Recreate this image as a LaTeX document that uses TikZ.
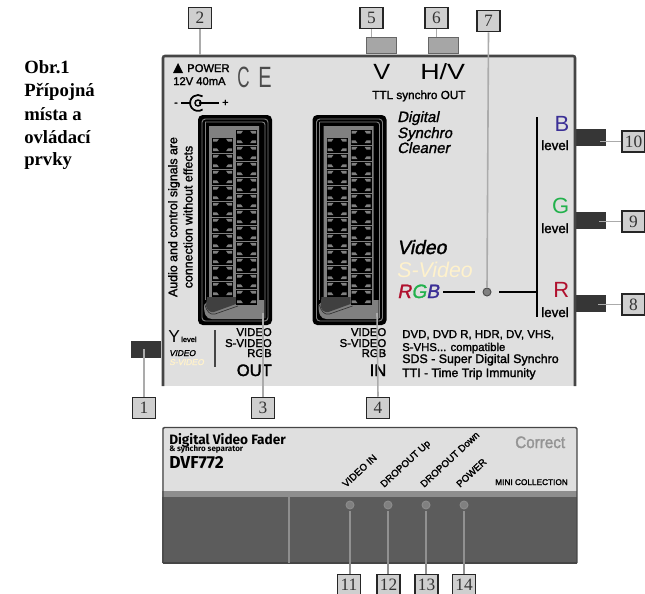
\documentclass[tikz,border=0pt]{standalone}
\usepackage{fontspec}
\setmainfont{Liberation Sans}
\newfontfamily\sembold[FakeBold=1.7]{Liberation Sans}
\newfontfamily\sembolditalic[FakeBold=1.4,FakeSlant=0.2]{Liberation Sans}
\newfontfamily\serifnum{Liberation Serif}
\newfontfamily\fira{Fira Sans}
\newcommand\fpt[1]{\fontsize{#1}{#1}\selectfont}
\definecolor{panel}{HTML}{DFDFDF}
\definecolor{edge}{HTML}{454545}
\definecolor{numedge}{HTML}{262626}
\definecolor{leadc}{HTML}{ABABAB}
\definecolor{tabdark}{HTML}{363636}
\definecolor{tablight}{HTML}{A6A6A6}
\definecolor{labelfill}{HTML}{CFCFCF}
\definecolor{pale}{HTML}{FFF2CC}
\definecolor{rgbr}{HTML}{B0102E}
\definecolor{rgbg}{HTML}{22B14C}
\definecolor{rgbb}{HTML}{3B2F96}
\definecolor{lowdark}{HTML}{5C5C5C}
\definecolor{band}{HTML}{8E8E8E}
\definecolor{midgray}{HTML}{808080}
\tikzset{
 x=0.75pt,y=-0.75pt,
 numbox/.style={draw=numedge,line width=1.1pt,fill=labelfill,inner sep=0pt,minimum width=17pt,minimum height=15.8pt,font=\serifnum\fpt{13},text=black!80},
 darktab/.style={draw=tabdark,fill=tabdark,inner sep=0pt,minimum width=22pt,minimum height=12.2pt},
 lighttab/.style={draw=black!60,line width=0.6pt,fill=tablight,inner sep=0pt,minimum width=22.5pt,minimum height=12.4pt},
 leader/.style={draw=leadc,line width=1.2pt},
 lampdot/.style={circle,draw=black!70,line width=0.7pt,fill=midgray,inner sep=0pt,minimum size=6pt},
 tl/.style={anchor=base west,inner sep=0pt},
 tr/.style={anchor=base east,inner sep=0pt},
 rot/.style={anchor=base west,inner sep=0pt,rotate=43,font=\sembold\fpt{7.3}},
}
% one socket cell: #1 left x, #2 top y
\newcommand\sockcell[2]{%
 \fill[black] (#1,#2) rectangle +(21,16);
 \draw[midgray,line width=0.4pt] (#1,#2) -- +(21,0);
 \fill[midgray] (#1+1,#2+1.8) -- +(6,0) -- +(4,2.8) -- +(0,2.8) -- cycle;
 \fill[midgray] (#1+20,#2+1.8) -- +(-6,0) -- +(-4,2.8) -- +(0,2.8) -- cycle;
 \fill[midgray] (#1+1,#2+14.2) -- +(6,0) -- +(4,-2.8) -- +(0,-2.8) -- cycle;
 \fill[midgray] (#1+20,#2+14.2) -- +(-6,0) -- +(-4,-2.8) -- +(0,-2.8) -- cycle;
}
% scart connector: #1 x offset
\newcommand\scart[1]{%
 \begin{scope}[xshift=#1*0.75pt]
 \fill[black,rounded corners=3.5pt] (198,115) rectangle (272,325);
 \draw[midgray,line width=0.7pt,rounded corners=2.5pt] (202,119) rectangle (268,321);
 \draw[midgray,line width=0.7pt,rounded corners=2pt] (205,122) -- (265,122) -- (265,318);
 \draw[midgray,line width=0.7pt] (205,122) -- (205,300);
 \fill[midgray] (209,126) -- (259,126) -- (259,300) -- (264,300) -- (264,319) -- (212,319) .. controls (206,319) and (204,314) .. (204,305) -- (209,300) -- cycle;
 \fill[black!75] (207,297) -- (236,297) -- (236,304) -- (214,312) .. controls (210,313) and (207,310) .. (206,306) -- cycle;
 \draw[black!80,line width=0.5pt] (205,305) .. controls (207,312) and (210,315) .. (215,314) -- (238,306);
 \foreach \k in {0,...,9} {\sockcell{212}{137+16*\k}}
 \foreach \k in {0,...,10} {\sockcell{236}{129+16*\k}}
 \end{scope}}
\begin{document}
\begin{tikzpicture}
\path[use as bounding box] (0,0) rectangle (645,593);
\clip (0,0) rectangle (645,593);

% tabs behind the panel
\node[lighttab] (tab5) at (381.5,45.5) {};
\node[lighttab] (tab6) at (443,45.5) {};
\node[darktab] (tab1) at (146,349) {};
\node[darktab] (tab10) at (591,137) {};
\node[darktab] (tab9) at (591,220) {};
\node[darktab] (tab8) at (591,303.5) {};

% upper panel
\fill[panel] (162,55) rectangle (576,386);
\draw[edge,line width=1.9pt,rounded corners=1.5pt] (163,386) -- (163,56) -- (575,56) -- (575,386);

% connectors
\scart{0}
\scart{114.5}

% top left block
\fill[black] (173,73) -- (178,63) -- (183,73) -- cycle;
\node[tl,font=\sembold\fpt{8.4}] (tpower) at (187,72) {POWER};
\node[tl,font=\sembold\fpt{8.4}] (tmA) at (173,85) {12V 40mA};
\node[tl,font=\fpt{22},text=black!70] (tce) at (237,87.5) {\scalebox{0.58}[1]{C}};
\node[tl,font=\fpt{22},text=black!70] (tce2) at (258,87.5) {\scalebox{0.68}[1]{E}};
% power jack symbol
\node[tl,font=\sembold\fpt{8}] (tminus) at (174,106) {-};
\node[tl,font=\sembold\fpt{8}] (tplus) at (222,106) {+};
\draw[black,line width=1.1pt] (181,103) -- (190,103);
\draw[black,line width=1.1pt] (199,103) -- (219,103);
\draw[black,line width=1.3pt] (202.6,109.5) arc (55:305:8);
\draw[black,line width=1.1pt] (198,103) circle (3);

\node[anchor=center,inner sep=0pt,rotate=90,font=\sembold\fpt{9.3}] (taudio) at (174,217) {Audio and control signals are};
\node[anchor=center,inner sep=0pt,rotate=90,font=\sembold\fpt{9.3}] (tconn) at (188,217) {connection without effects};

% synchro
\node[tl,font=\fpt{16.5}] (tv) at (373,79) {\scalebox{1.15}[1]{V}};
\node[tl,font=\fpt{16.5}] (thv) at (420,79) {\scalebox{1.22}[1]{H/V}};
\node[tl,font=\sembold\fpt{8.8}] (tttl) at (372,99) {TTL synchro OUT};
\node[tl,font=\sembolditalic\fpt{11.2}] (td1) at (397,122) {Digital};
\node[tl,font=\sembolditalic\fpt{11.2}] (td2) at (397,138) {Synchro};
\node[tl,font=\sembolditalic\fpt{11.2}] (td3) at (397,153) {Cleaner};

% colour levels
\node[tr,font=\fpt{16.5},text=rgbb] (tb) at (569.5,131) {B};
\node[tr,font=\sembold\fpt{10}] (tbl) at (569,150) {level};
\node[tr,font=\fpt{16.5},text=rgbg] (tg) at (569.5,213) {G};
\node[tr,font=\sembold\fpt{10}] (tgl) at (569,233) {level};
\node[tr,font=\fpt{16.5},text=rgbr] (tr) at (569.5,297) {R};
\node[tr,font=\sembold\fpt{10}] (trl) at (569,317) {level};

% selector
\node[tl,font=\sembolditalic\fpt{14.5}] (tvideo) at (397,254) {Video};
\node[tl,font=\itshape\fpt{16},text=pale] (tsvideo) at (397,277) {S-Video};
\node[tl,font=\sembolditalic\fpt{14.5}] (trgb) at (397,298) {\textcolor{rgbr}{R}\textcolor{rgbg}{G}\textcolor{rgbb}{B}};
\coordinate (swl) at (443,292);
\coordinate (swr) at (536.5,292);
\coordinate (bartop) at (537,117);
\coordinate (barbot) at (537,317);
\node[lampdot] (dot7) at (487,292) {};
\draw[black,line width=1.3pt] (swl) -- ([xshift=-6pt]dot7.west);
\draw[black,line width=1.3pt] ([xshift=6pt]dot7.east) -- (swr);
\draw[black,line width=1.3pt] (bartop) -- (barbot);

% notes
\node[tl,font=\sembold\fpt{8.6}] (tn1) at (402,338) {DVD, DVD R, HDR, DV, VHS,};
\node[tl,font=\sembold\fpt{8.5}] (tn2) at (402,351) {S-VHS... compatible};
\node[tl,font=\sembold\fpt{9.3}] (tn3) at (402,363) {SDS - Super Digital Synchro};
\node[tl,font=\sembold\fpt{9.2}] (tn4) at (402,377) {TTI - Time Trip Immunity};

% Y level
\node[tl,font=\fpt{13}] (ty) at (168,342) {Y};
\node[tl,font=\sembold\fpt{5.6}] (tyl) at (181,342) {level};
\node[tl,font=\sembolditalic\fpt{6.3}] (tyv) at (169,356) {VIDEO};
\node[tl,font=\sembolditalic\fpt{6.3},text=pale] (tys) at (169,365) {S-VIDEO};
\draw[edge,line width=1.1pt] (215,330) -- (215,367);

% OUT / IN lists
\foreach \nm/\xx in {o/272,i/386.5} {
 \node[tr,font=\sembold\fpt{8.5}] (t\nm1) at (\xx,336) {VIDEO};
 \node[tr,font=\sembold\fpt{8.5}] (t\nm2) at (\xx,347) {S-VIDEO};
 \node[tr,font=\sembold\fpt{8.5}] (t\nm3) at (\xx,357) {RGB};
}
\node[tr,font=\sembold\fpt{12.4}] (tout) at (272,376) {OUT};
\node[tr,font=\sembold\fpt{12.4}] (tin) at (386.5,376) {IN};

% lower panel
\fill[panel] (162,427) rectangle (577,491);
\fill[band] (162,491) rectangle (577,497);
\fill[lowdark] (162,497) rectangle (577,563);
\draw[edge,line width=0.9pt,rounded corners=1pt] (162.5,563) -- (577,563);
\draw[edge,line width=1.1pt,rounded corners=1pt] (163,563) -- (163,427.5) -- (577,427.5) -- (577,563);
\draw[band,line width=1.2pt] (289,491) -- (289,563);

\node[tl,font=\fira\bfseries\fpt{10.2}] (tdvf) at (169,444) {Digital Video Fader};
\node[tl,font=\fira\bfseries\fpt{6}] (tsep) at (169,451) {\& synchro separator};
\node[tl,font=\fira\bfseries\fpt{13}] (tmodel) at (169,468) {DVF772};
\node[rot] (rot11) at (346,488) {VIDEO IN};
\node[rot] (rot12) at (384,488) {DROPOUT Up};
\node[rot] (rot13) at (424,488) {DROPOUT Down};
\node[rot] (rot14) at (460,488) {POWER};
\node[tl,font=\sembold\fpt{6.2}] (tmini) at (495,485) {MINI COLLECTION};
\node[tl,font=\sembold\fpt{12.4},text=black!42] (tcorr) at (515,448) {\scalebox{0.92}[1]{Correct}};

\foreach \n/\xx in {11/350,12/388,13/426,14/464} {\node[lampdot,draw=black!45] (dot\n) at (\xx,505) {};}

% caption at the left
\foreach \nm/\yy/\tx in {a/73/Obr.1,b/96/Přípojná,c/120/místa a,d/143/ovládací,e/165/prvky} {
 \node[tl,font=\serifnum\bfseries\fpt{14}] (cap\nm) at (24,\yy) {\tx};
}

% number boxes
\node[numbox] (n1) at (144,408) {1};
\node[numbox] (n2) at (200,18) {2};
\node[numbox] (n3) at (263,408) {3};
\node[numbox] (n4) at (378,408) {4};
\node[numbox] (n5) at (371.5,18) {5};
\node[numbox] (n6) at (436.5,18) {6};
\node[numbox] (n7) at (488.5,21) {7};
\node[numbox] (n8) at (633.5,304.5) {8};
\node[numbox] (n9) at (633.5,221.5) {9};
\node[numbox] (n10) at (633.5,141.5) {10};
\node[numbox] (n11) at (349,585) {11};
\node[numbox] (n12) at (388.5,585) {12};
\node[numbox] (n13) at (426.5,585) {13};
\node[numbox] (n14) at (464,585) {14};

% leaders
\coordinate (p1) at (144,349);
\coordinate (p2) at (200,55);
\coordinate (p3) at (263,313);
\coordinate (p4) at (377,313);
\coordinate (p8) at (598,306);
\coordinate (p9) at (599,221.5);
\coordinate (p10) at (600,141.5);
\draw[leader] (n1.north) -- (p1);
\draw[leader] (n2.south) -- (p2);
\draw[leader] (n3.north) -- (p3);
\draw[leader] (n4.north) -- (p4);
\draw[leader] (n5.south) -- (n5.south |- tab5.north);
\draw[leader] (n6.south) -- (n6.south |- tab6.north);
\draw[leader] (n7.south) -- (dot7.north);
\draw[leader] (n8.west) -- (p8 |- n8.west);
\draw[leader] (n9.west) -- (p9);
\draw[leader] (n10.west) -- (p10);
\foreach \n in {11,12,13,14} {\draw[leader,draw=leadc!85!black] ([yshift=-1.5pt]dot\n.south) -- (dot\n.south |- n\n.north);}
\end{tikzpicture}
\end{document}
